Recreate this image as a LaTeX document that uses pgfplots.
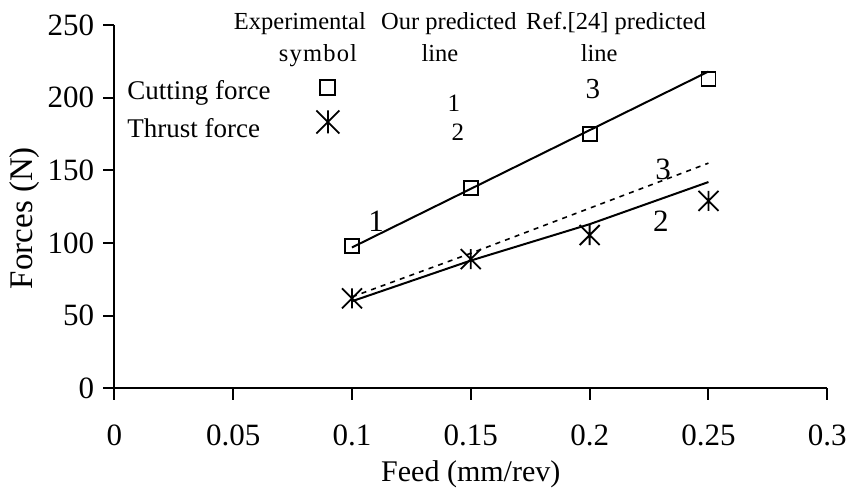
\documentclass[border=0pt]{standalone}
\usepackage{fontspec}
\setmainfont{Liberation Serif}
\usepackage{pgfplots}
\pgfplotsset{compat=1.18}
\pgfdeclareplotmark{xstar}{%
  \pgfpathmoveto{\pgfqpoint{-\pgfplotmarksize}{-\pgfplotmarksize}}%
  \pgfpathlineto{\pgfqpoint{\pgfplotmarksize}{\pgfplotmarksize}}%
  \pgfpathmoveto{\pgfqpoint{-\pgfplotmarksize}{\pgfplotmarksize}}%
  \pgfpathlineto{\pgfqpoint{\pgfplotmarksize}{-\pgfplotmarksize}}%
  \pgfpathmoveto{\pgfqpoint{0pt}{-\pgfplotmarksize}}%
  \pgfpathlineto{\pgfqpoint{0pt}{\pgfplotmarksize}}%
  \pgfusepathqstroke}
\begin{document}
\begin{tikzpicture}
\begin{axis}[name=ax, scale only axis, width=356.5pt, height=181.75pt,
  xmin=0, xmax=0.3, ymin=0, ymax=250,
  axis lines=left, axis line style={-, line width=1pt, black},
  xtick={0,0.05,0.1,0.15,0.2,0.25,0.3},
  xticklabels={0,0.05,0.1,0.15,0.2,0.25,0.3},
  ytick={0,50,100,150,200,250},
  tick align=outside, major tick length=5.5pt,
  tick style={line width=1pt, black},
  /pgf/number format/assume math mode=true,
  ticklabel style={font=\fontsize{15.5}{18}\selectfont},
  xticklabel style={yshift=-9pt},
  yticklabel style={xshift=-1pt},
  clip=false,
  xlabel={Feed (mm/rev)},
  xlabel style={at={(axis description cs:0.5,-0.2545)}, anchor=base, font=\fontsize{15}{18}\selectfont},
  ylabel={Forces (N)},
  ylabel style={at={(axis description cs:-0.1154,0.469)}, anchor=base, rotate=0, font=\fontsize{16.5}{19}\selectfont},
]
\addplot[black, line width=1pt] coordinates {(0.1,97)(0.25,218)};
\addplot[black, line width=1pt] coordinates {(0.1,60)(0.15,88)(0.2,113)(0.25,142)};
\addplot[black, line width=0.8pt, dash pattern=on 2.5pt off 2.6pt] coordinates {(0.1,63)(0.15,93)(0.2,124)(0.25,155)};
\addplot[only marks, mark=square, mark size=3.5pt, mark options={black, line width=0.9pt}] coordinates {(0.1,98)(0.15,138)(0.2,175)(0.25,213)};
\addplot[only marks, mark=xstar, mark size=5pt, mark options={black, line width=0.9pt}] coordinates {(0.1,62)(0.15,89)(0.2,105.5)(0.25,129)};
% legend symbols
\addplot[only marks, mark=square, mark size=3.75pt, mark options={black, line width=0.9pt}] coordinates {(0.0897,207)};
\addplot[only marks, mark=xstar, mark size=5.75pt, mark options={black, line width=0.9pt}] coordinates {(0.0899,183.3)};
% legend texts
\node[anchor=base, font=\fontsize{12.25}{14}\selectfont] at (axis cs:0.0781,247.2) {Experimental};
\node[anchor=base, font=\fontsize{12.25}{14}\selectfont] at (axis cs:0.0857,224.6) {s\kern0.6pt y\kern0.6pt m\kern0.6pt b\kern0.6pt o\kern0.6pt l};
\node[anchor=base, font=\fontsize{12.25}{14}\selectfont] at (axis cs:0.1408,247.2) {Our predicted};
\node[anchor=base, font=\fontsize{12.25}{14}\selectfont] at (axis cs:0.1370,224.6) {line};
\node[anchor=base, font=\fontsize{12.25}{14}\selectfont] at (axis cs:0.2111,247.2) {Ref.[24] predicted};
\node[anchor=base, font=\fontsize{12.25}{14}\selectfont] at (axis cs:0.2040,224.6) {line};
\node[anchor=base west, inner sep=0pt, font=\fontsize{13.5}{16}\selectfont] at (axis cs:0.00534,199.1) {Cutting force};
\node[anchor=base west, inner sep=0pt, font=\fontsize{13.5}{16}\selectfont] at (axis cs:0.00534,172.9) {Thrust force};
\node[inner sep=0pt, font=\fontsize{12.5}{14}\selectfont] at (axis cs:0.1429,196.3) {1};
\node[inner sep=0pt, font=\fontsize{12.5}{14}\selectfont] at (axis cs:0.1446,176.4) {2};
\node[inner sep=0pt, font=\fontsize{14.5}{16}\selectfont] at (axis cs:0.2014,206) {3};
% line labels
\node[inner sep=0pt, font=\fontsize{15.5}{18}\selectfont] at (axis cs:0.1102,115.2) {1};
\node[inner sep=0pt, font=\fontsize{15.5}{18}\selectfont] at (axis cs:0.2309,151) {3};
\node[inner sep=0pt, font=\fontsize{15.5}{18}\selectfont] at (axis cs:0.2300,115.2) {2};
\end{axis}
\pgfresetboundingbox
\path[use as bounding box] ([shift={(-57.15pt,-52.25pt)}]ax.south west) rectangle ([shift={(366.85pt,194.25pt)}]ax.south west);
\end{tikzpicture}
\end{document}
